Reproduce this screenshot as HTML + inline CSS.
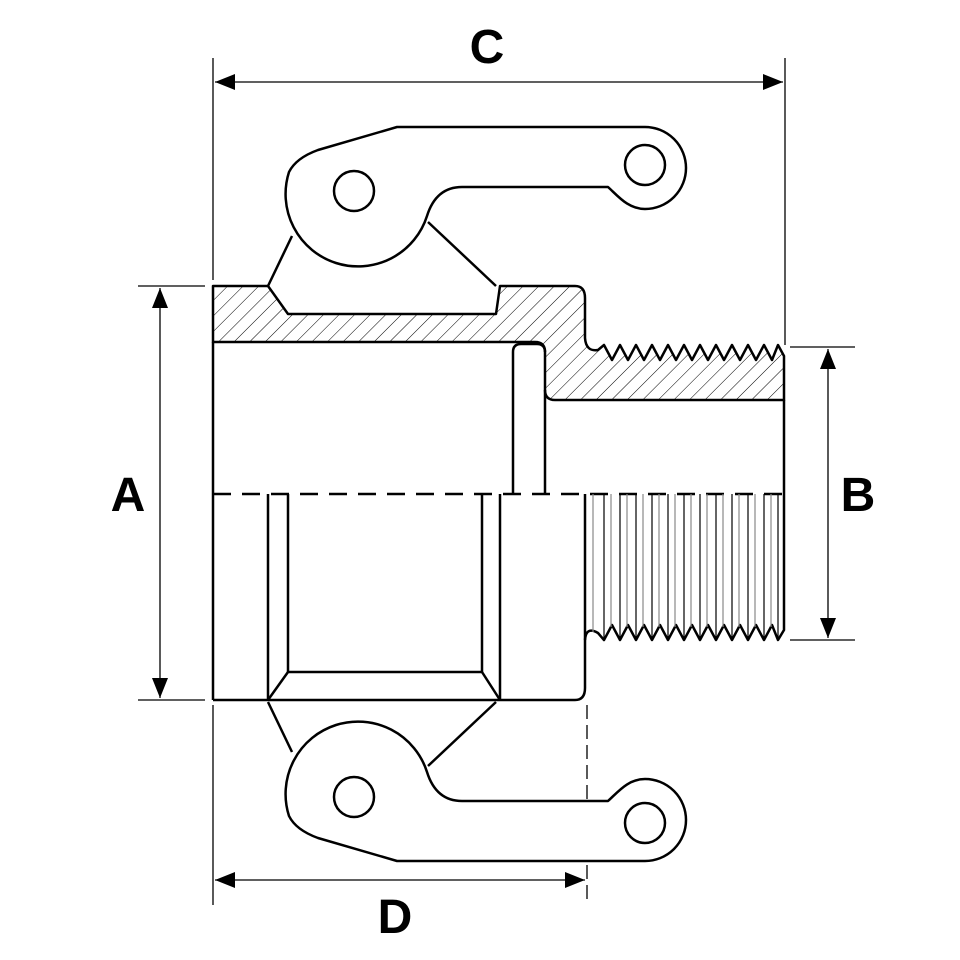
<!DOCTYPE html>
<html><head><style>html,body{margin:0;padding:0;background:#fff}svg{display:block}</style></head><body>
<svg width="960" height="960" viewBox="0 0 960 960" xmlns="http://www.w3.org/2000/svg">
<defs>
<pattern id="h" patternUnits="userSpaceOnUse" width="11" height="11" patternTransform="rotate(45)">
<rect width="11" height="11" fill="#fff"/><line x1="0" y1="0" x2="0" y2="11" stroke="#000" stroke-width="1"/>
</pattern>
<marker id="ar" viewBox="0 0 10 10" refX="10" refY="5" markerWidth="20" markerHeight="20" markerUnits="userSpaceOnUse" orient="auto-start-reverse"><path d="M0,1 L10,5 L0,9 Z" fill="#000"/></marker>
</defs>
<g fill="none" stroke="#000" stroke-width="1.3">
<line x1="213" y1="58" x2="213" y2="280"/>
<line x1="785" y1="58" x2="785" y2="345"/>
<line x1="138" y1="286" x2="205" y2="286"/>
<line x1="138" y1="700" x2="205" y2="700"/>
<line x1="790" y1="347" x2="855" y2="347"/>
<line x1="790" y1="640" x2="855" y2="640"/>
<line x1="213" y1="705" x2="213" y2="905"/>
<line x1="587" y1="705" x2="587" y2="905" stroke-dasharray="14,6"/>
<line x1="215" y1="82" x2="783" y2="82" marker-start="url(#ar)" marker-end="url(#ar)"/>
<line x1="160" y1="288" x2="160" y2="698" marker-start="url(#ar)" marker-end="url(#ar)"/>
<line x1="828" y1="349" x2="828" y2="638" marker-start="url(#ar)" marker-end="url(#ar)"/>
<line x1="215" y1="880" x2="585" y2="880" marker-start="url(#ar)" marker-end="url(#ar)"/>
</g>
<g fill="none" stroke="#000" stroke-width="2.5" stroke-linejoin="round">
<path fill="url(#h)" d="M213,286 L268,286 L288,314 L496,314 L500,286 L575,286 Q585,286 585,298 L585,338 Q586,352 598,350 L604,345 L612,360 L620,345 L628,360 L636,345 L644,360 L652,345 L660,360 L668,345 L676,360 L684,345 L692,360 L700,345 L708,360 L716,345 L724,360 L732,345 L740,360 L748,345 L756,360 L764,345 L772,360 L778,345 L784,356 L784,400 L555,400 Q545,400 545,390 L545,352 Q545,342 535,342 L213,342 Z"/>
<path d="M513,494 L513,352 Q513,344 521,344 L537,344 Q545,344 545,352"/>
<line x1="545" y1="390" x2="545" y2="494"/>
<line x1="784" y1="400" x2="784" y2="494"/>
<line x1="213" y1="342" x2="213" y2="494"/>
<line x1="213" y1="494" x2="784" y2="494" stroke-dasharray="18,11"/>
<line x1="213" y1="494" x2="213" y2="700"/>
<line x1="268" y1="494" x2="268" y2="700"/>
<line x1="288" y1="494" x2="288" y2="672"/>
<line x1="482" y1="494" x2="482" y2="672"/>
<line x1="500" y1="494" x2="500" y2="700"/>
<line x1="288" y1="672" x2="482" y2="672"/>
<line x1="288" y1="672" x2="268" y2="700"/>
<line x1="482" y1="672" x2="500" y2="700"/>
<path d="M213,700 L575,700 Q585,700 585,688 L585,494"/>
<path d="M585,640 Q586,626 598,633 L604,640 L612,625 L620,640 L628,625 L636,640 L644,625 L652,640 L660,625 L668,640 L676,625 L684,640 L692,625 L700,640 L708,625 L716,640 L724,625 L732,640 L740,625 L748,640 L756,625 L764,640 L772,625 L778,640 L784,630 L784,494"/>
</g>
<g stroke-width="1.2">
<path stroke="#888" d="M593,494V632 M611,494V627 M627,494V627 M643,494V627 M659,494V627 M675,494V627 M691,494V627 M707,494V627 M723,494V627 M739,494V627 M755,494V627 M771,494V627"/>
<path stroke="#000" d="M604,494V640 M620,494V640 M636,494V640 M652,494V640 M668,494V640 M684,494V640 M700,494V640 M716,494V640 M732,494V640 M748,494V640 M764,494V640 M778,494V640"/>
</g>
<g id="lev" fill="#fff" stroke="#000" stroke-width="2.5" stroke-linejoin="round">
<line x1="292" y1="236" x2="268" y2="286"/>
<line x1="428" y1="222" x2="496" y2="286"/>
<path d="M397,127 L645,127 A41,41 0 0 1 645,209 C628,209 618,196 608,187 L462,187 C442,187 432,200 427,216 A72,72 0 1 1 289,172 Q296,158 318,150 Z"/>
<circle cx="354" cy="191" r="20"/>
<circle cx="645" cy="165" r="20"/>
</g>
<use href="#lev" transform="matrix(1,0,0,-1,0,988)"/>
<g font-family="Liberation Sans, sans-serif" font-weight="bold" font-size="48" text-anchor="middle">
<text x="487" y="63">C</text>
<text x="128" y="511">A</text>
<text x="858" y="511">B</text>
<text x="395" y="933">D</text>
</g>
</svg>
</body></html>
